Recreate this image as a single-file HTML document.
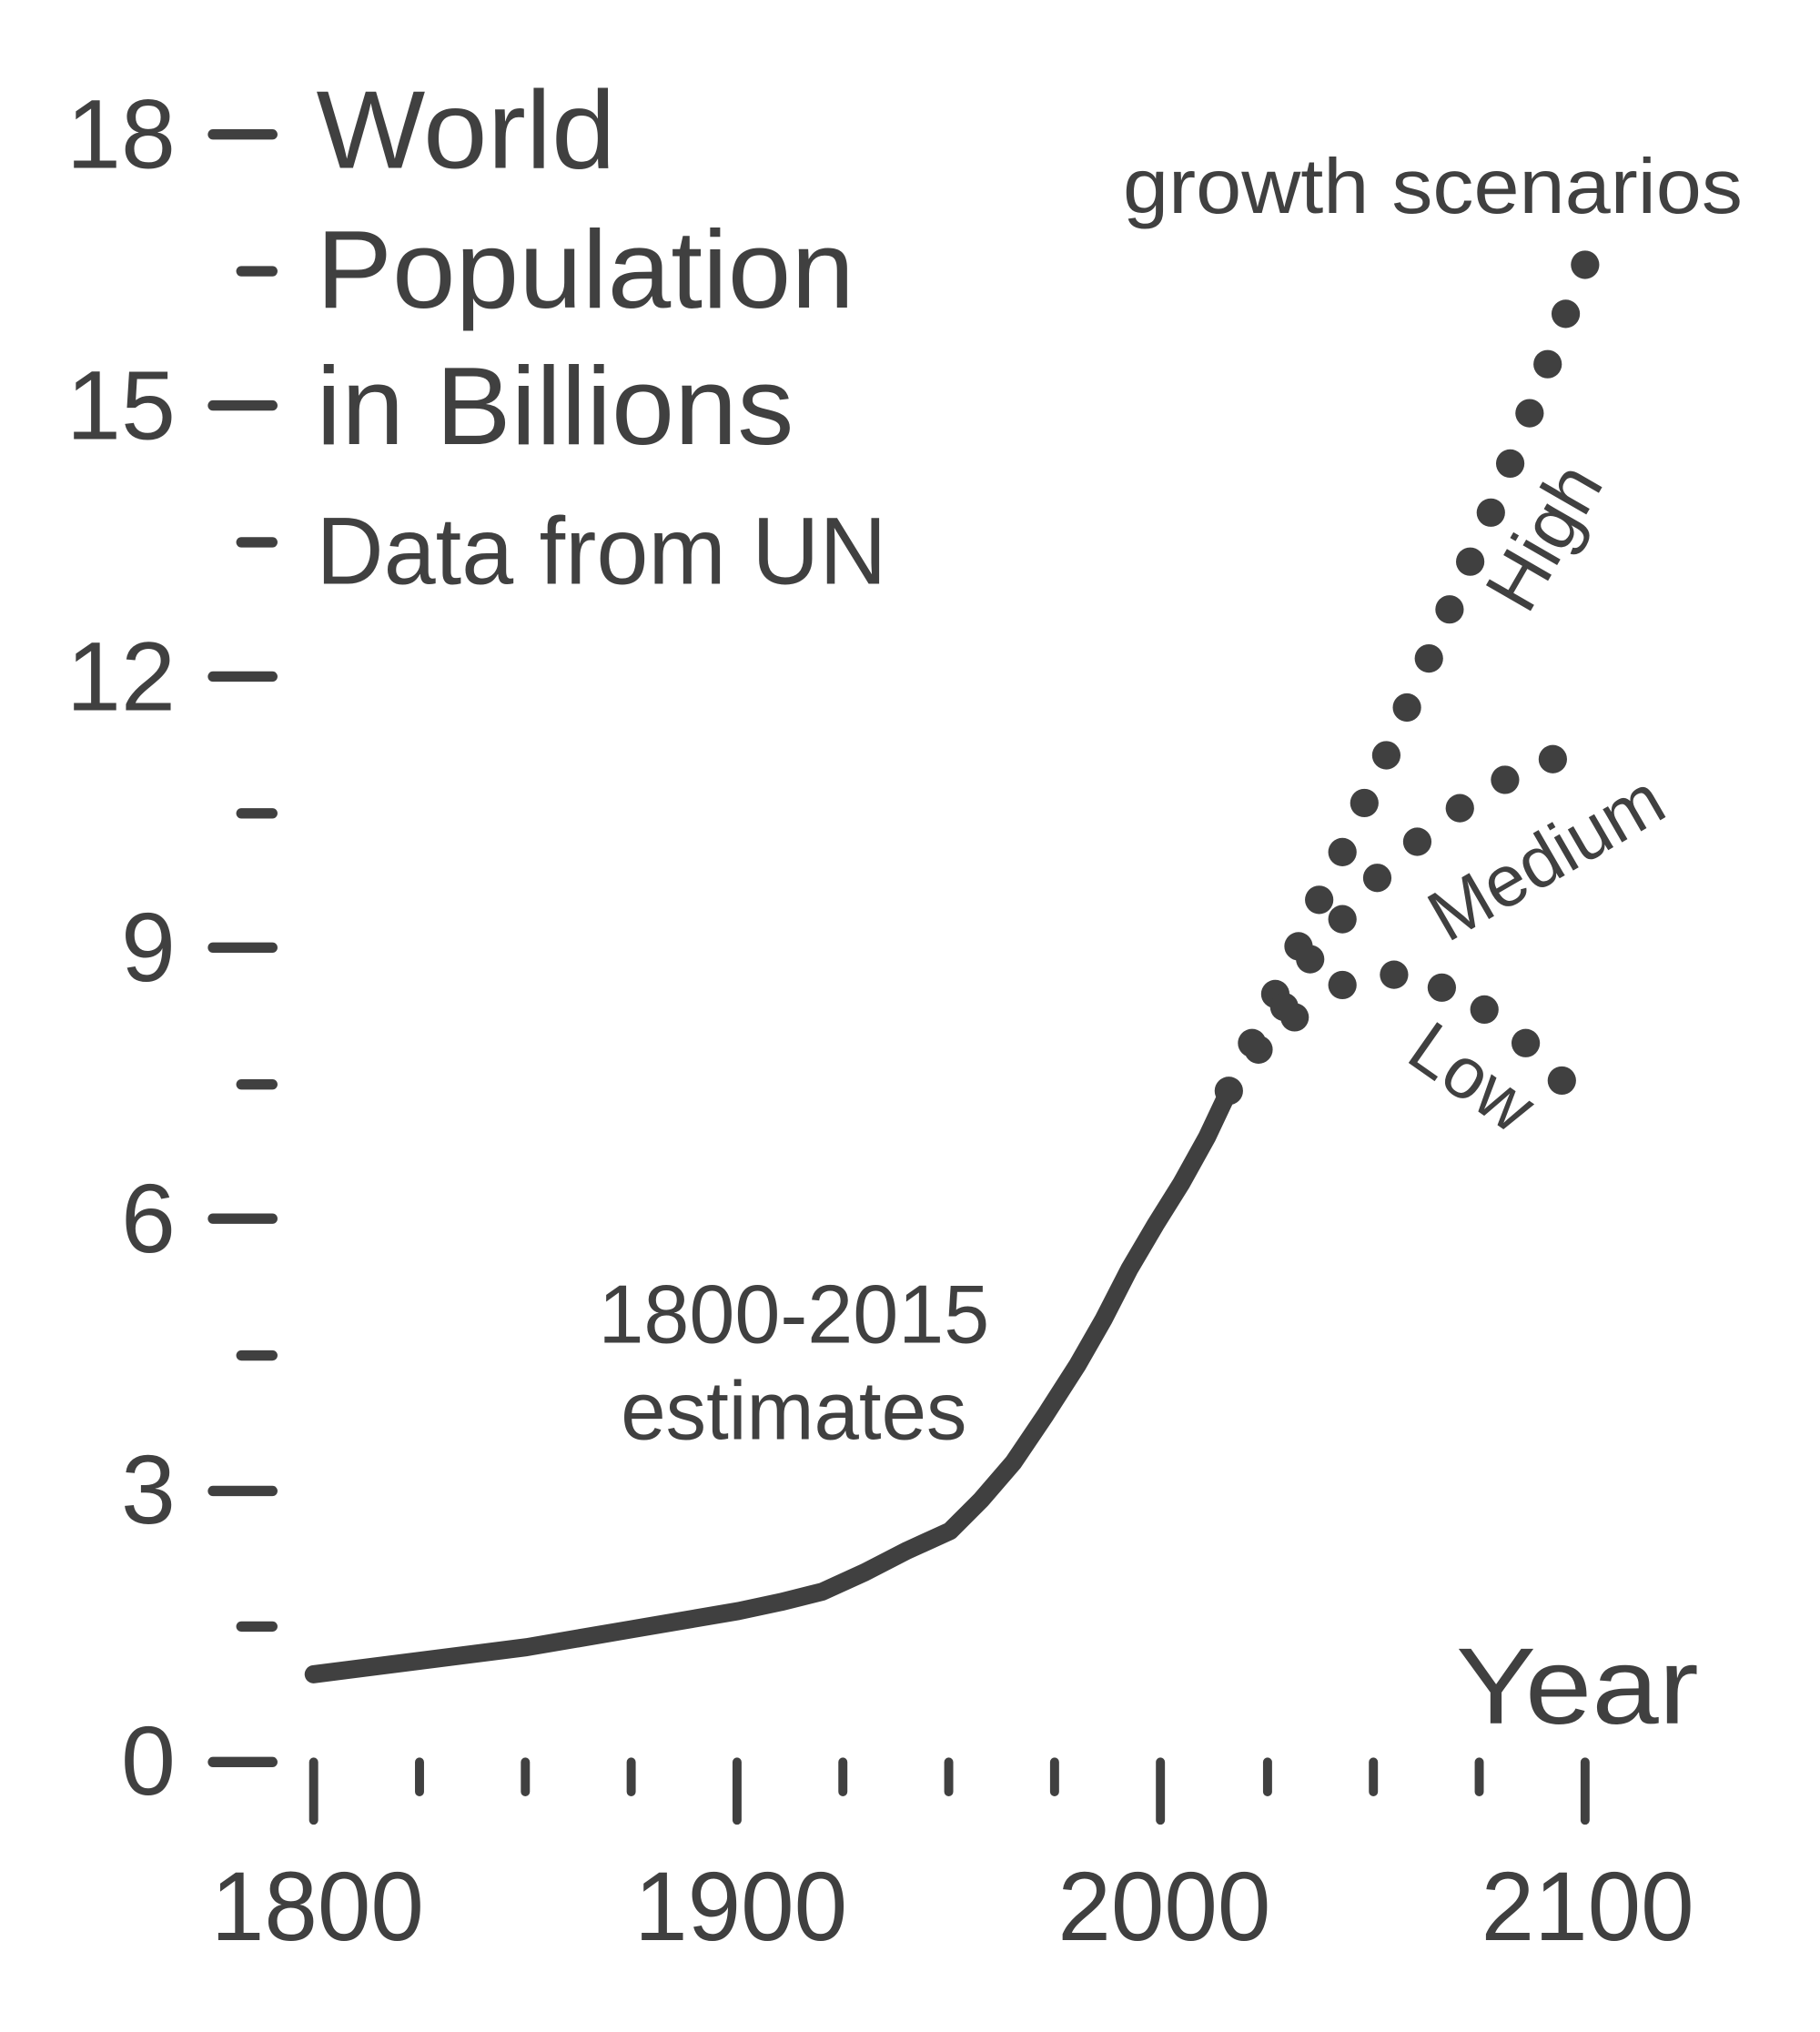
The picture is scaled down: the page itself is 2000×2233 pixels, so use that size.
<!DOCTYPE html>
<html><head><style>html,body{margin:0;padding:0;background:#fff}svg{display:block}</style></head>
<body>
<svg width="2000" height="2233" viewBox="0 0 1410 1574" xmlns="http://www.w3.org/2000/svg" font-family="Liberation Sans, DejaVu Sans, sans-serif" fill="#404040">
<rect width="1410" height="1574" fill="#fff"/>
<g stroke="#404040" stroke-width="8" stroke-linecap="round">
<line x1="165" y1="104" x2="211" y2="104"/><line x1="187" y1="210" x2="211" y2="210"/>
<line x1="165" y1="314" x2="211" y2="314"/><line x1="187" y1="420" x2="211" y2="420"/>
<line x1="165" y1="524" x2="211" y2="524"/><line x1="187" y1="630" x2="211" y2="630"/>
<line x1="165" y1="734" x2="211" y2="734"/><line x1="187" y1="840" x2="211" y2="840"/>
<line x1="165" y1="944" x2="211" y2="944"/><line x1="187" y1="1050" x2="211" y2="1050"/>
<line x1="165" y1="1155" x2="211" y2="1155"/><line x1="187" y1="1260" x2="211" y2="1260"/>
<line x1="165" y1="1365" x2="211" y2="1365"/>
</g>
<g stroke="#404040" stroke-width="7" stroke-linecap="round">
<line x1="243" y1="1365" x2="243" y2="1410"/><line x1="325" y1="1365" x2="325" y2="1388"/>
<line x1="407" y1="1365" x2="407" y2="1388"/><line x1="489" y1="1365" x2="489" y2="1388"/>
<line x1="571" y1="1365" x2="571" y2="1410"/><line x1="653" y1="1365" x2="653" y2="1388"/>
<line x1="735" y1="1365" x2="735" y2="1388"/><line x1="817" y1="1365" x2="817" y2="1388"/>
<line x1="899" y1="1365" x2="899" y2="1410"/><line x1="982" y1="1365" x2="982" y2="1388"/>
<line x1="1064" y1="1365" x2="1064" y2="1388"/><line x1="1146" y1="1365" x2="1146" y2="1388"/>
<line x1="1228" y1="1365" x2="1228" y2="1410"/>
</g>
<g font-size="76" text-anchor="end">
<text x="136" y="130">18</text><text x="136" y="340">15</text><text x="136" y="550">12</text>
<text x="136" y="760">9</text><text x="136" y="970">6</text><text x="136" y="1180">3</text><text x="136" y="1390">0</text>
</g>
<g font-size="76" text-anchor="middle">
<text x="246" y="1503" textLength="165" lengthAdjust="spacingAndGlyphs">1800</text>
<text x="574" y="1503" textLength="165" lengthAdjust="spacingAndGlyphs">1900</text>
<text x="902" y="1503" textLength="165" lengthAdjust="spacingAndGlyphs">2000</text>
<text x="1230" y="1503" textLength="165" lengthAdjust="spacingAndGlyphs">2100</text>
</g>
<g font-size="86">
<text x="245" y="130" textLength="232" lengthAdjust="spacingAndGlyphs">World</text>
<text x="245" y="238" textLength="417" lengthAdjust="spacingAndGlyphs">Population</text>
<text x="245" y="344" textLength="370" lengthAdjust="spacingAndGlyphs">in Billions</text>
</g>
<text x="245" y="452" font-size="74" textLength="442" lengthAdjust="spacingAndGlyphs">Data from UN</text>
<text x="870" y="165" font-size="60" textLength="480" lengthAdjust="spacingAndGlyphs">growth scenarios</text>
<text x="615" y="1040" font-size="64" text-anchor="middle" textLength="303" lengthAdjust="spacingAndGlyphs">1800-2015</text>
<text x="615" y="1115" font-size="64" text-anchor="middle" textLength="268" lengthAdjust="spacingAndGlyphs">estimates</text>
<text x="1316" y="1335" font-size="84" text-anchor="end" textLength="188" lengthAdjust="spacingAndGlyphs">Year</text>
<text transform="translate(1200,418) rotate(-60)" font-size="58" text-anchor="middle" dominant-baseline="middle">High</text>
<text transform="translate(1200,668) rotate(-30)" font-size="56" text-anchor="middle" dominant-baseline="middle">Medium</text>
<text transform="translate(1138,838) rotate(35)" font-size="56" text-anchor="middle" dominant-baseline="middle">Low</text>
<polyline fill="none" stroke="#404040" stroke-width="14" stroke-linecap="round" stroke-linejoin="round" points="243,1297 408,1276 490,1262 572,1248 605,1241 637,1233 670,1218 703,1201 736,1186 760,1162 785,1133 810,1096 835,1057 855,1022 875,983 895,949 915,917 935,881 952,845"/>
<g>
<circle cx="952" cy="845" r="11"/><circle cx="970" cy="808" r="11"/><circle cx="988" cy="770" r="11"/><circle cx="1006" cy="733" r="11"/><circle cx="1022" cy="697" r="11"/><circle cx="1040" cy="660" r="11"/><circle cx="1057" cy="622" r="11"/><circle cx="1074" cy="585" r="11"/><circle cx="1090" cy="548" r="11"/><circle cx="1107" cy="510" r="11"/><circle cx="1123" cy="472" r="11"/><circle cx="1139" cy="435" r="11"/><circle cx="1155" cy="397" r="11"/><circle cx="1170" cy="359" r="11"/><circle cx="1185" cy="320" r="11"/><circle cx="1199" cy="282" r="11"/><circle cx="1213" cy="243" r="11"/><circle cx="1228" cy="205" r="11"/>
<circle cx="975" cy="813" r="11"/><circle cx="995" cy="780" r="11"/><circle cx="1015" cy="743" r="11"/><circle cx="1040" cy="712" r="11"/><circle cx="1067" cy="680" r="11"/><circle cx="1098" cy="652" r="11"/><circle cx="1131" cy="626" r="11"/><circle cx="1166" cy="604" r="11"/><circle cx="1203" cy="588" r="11"/>
<circle cx="1003" cy="788" r="11"/><circle cx="1040" cy="763" r="11"/><circle cx="1080" cy="755" r="11"/><circle cx="1117" cy="765" r="11"/><circle cx="1150" cy="782" r="11"/><circle cx="1182" cy="808" r="11"/><circle cx="1210" cy="837" r="11"/>
</g>
</svg>
</body></html>
